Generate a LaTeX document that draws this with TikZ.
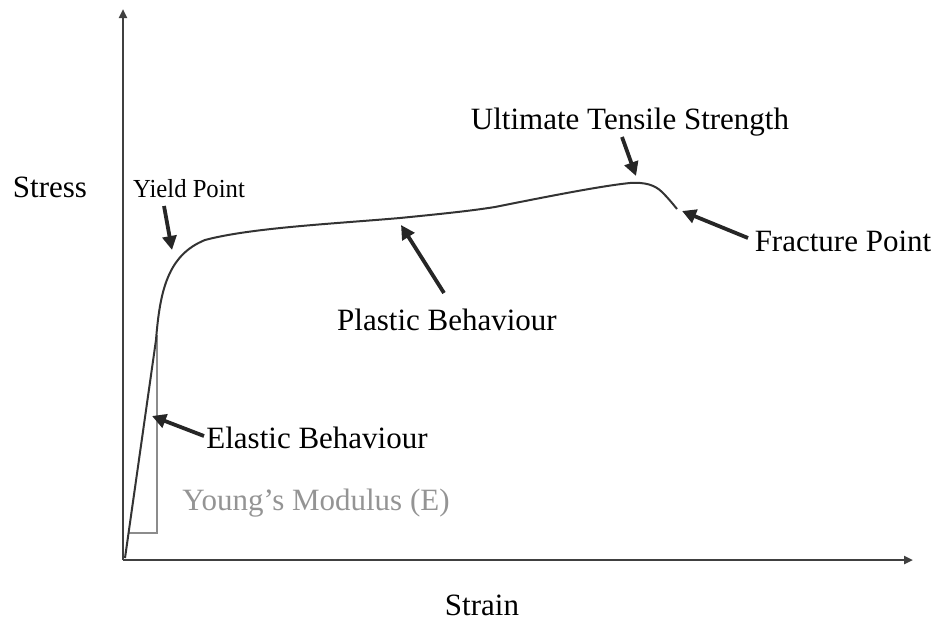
\documentclass[tikz,border=0pt]{standalone}
\usepackage{fontspec}
\setmainfont{Liberation Serif}
\usetikzlibrary{arrows.meta}
\begin{document}
\begin{tikzpicture}[x=1pt,y=-1pt,
  lbl/.style={inner sep=0pt,font=\fontsize{31}{36}\selectfont,text=black},
  axis/.style={line width=2.4pt,draw=black!75,-{Triangle[length=9pt,width=8pt]}},
  pointer/.style={line width=3.8pt,draw=black!85,-{Triangle[length=14pt,width=14pt]}},
  curve/.style={line width=2pt,draw=black!80}]
\useasboundingbox (0,0) rectangle (942,621);
% axes
\coordinate (O) at (123,560);
\coordinate (ytop) at (123,9);
\coordinate (xend) at (913,560);
\draw[axis] (O) -- (ytop);
\draw[axis] (O) -- (xend);
% Young's modulus triangle (gray)
\coordinate (ya) at (128,533);
\coordinate (yb) at (157,533);
\coordinate (yc) at (157,335);
\draw[line width=1.5pt,draw=black!45] (ya) -- (yb) -- (yc);
% stress-strain curve
\draw[curve] (125,558) -- (156,340)
  .. controls (160,290) and (168,255) .. (205,240)
  .. controls (250,228) and (330,224) .. (400,218)
  .. controls (440,214) and (470,211) .. (495,207)
  .. controls (540,198) and (600,186) .. (630,183)
  .. controls (645,182) and (655,185) .. (662,192)
  .. controls (668,198) and (673,204) .. (677,209);
% labels
\node[lbl] (stress) at (50,187) {Stress};
\node[lbl] (strain) at (482,605) {Strain};
\node[lbl,font=\fontsize{26}{30}\selectfont,xscale=0.95] (yield) at (189,189) {Yield Point};
\node[lbl] (uts) at (630,122) {Ultimate Tensile Strength};
\node[lbl] (fract) at (843,241) {Fracture Point};
\node[lbl] (plast) at (447,320) {Plastic Behaviour};
\node[lbl] (elast) at (317,438) {Elastic Behaviour};
\node[lbl,text=black!42] (young) at (316,503) {Young's Modulus (E)};
% pointers
\coordinate (yieldtip) at (172,250);
\coordinate (utstip) at (636,176);
\coordinate (fracttip) at (682,211);
\coordinate (plasttip) at (401,225);
\coordinate (elasttip) at (152,416);
\draw[pointer] (164,206) -- (yieldtip);
\draw[pointer] (622,137) -- (utstip);
\draw[pointer] (748,238) -- (fracttip);
\draw[pointer] (444,293) -- (plasttip);
\draw[pointer] (204,436) -- (elasttip);
\end{tikzpicture}
\end{document}
